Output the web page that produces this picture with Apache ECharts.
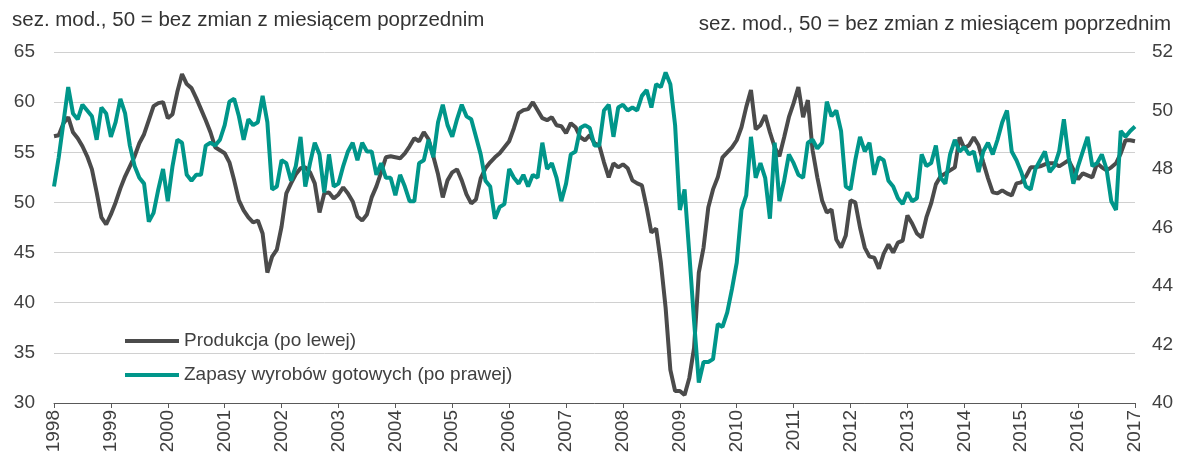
<!DOCTYPE html>
<html>
<head>
<meta charset="utf-8">
<script src="https://cdn.jsdelivr.net/npm/echarts@6/dist/echarts.min.js"></script>
<style>
html, body { margin: 0; padding: 0; background: #fff; }
#chart { width: 1177px; height: 460px; }
</style>
</head>
<body>
<div id="chart"></div>
<script>
// monthly data, Jan 1998 .. Jan 2017
const firstYear = 1998
const lastYear = 2017
const axisNote = 'sez. mod., 50 = bez zmian z miesiącem poprzednim'

// Produkcja (left axis)
const produkcja = [
  56.6, 56.7, 57.9, 58.5, 57.0, 56.4, 55.6, 54.6, 53.3, 51.0, 48.5, 47.8, // 1998
  48.8, 50.0, 51.4, 52.6, 53.6, 54.6, 55.9, 56.8, 58.2, 59.6, 59.9, 60.0, // 1999
  58.4, 58.8, 61.0, 62.8, 61.8, 61.4, 60.4, 59.3, 58.2, 57.0, 55.5, 55.2, // 2000
  54.9, 54.0, 52.2, 50.2, 49.2, 48.5, 48.0, 48.2, 46.9, 43.0, 44.6, 45.3, // 2001
  47.6, 50.9, 51.9, 52.8, 53.4, 53.5, 53.0, 51.9, 49.0, 50.9, 51.0, 50.4, // 2002
  50.8, 51.5, 50.9, 50.1, 48.6, 48.2, 48.8, 50.5, 51.6, 53.0, 54.5, 54.6, // 2003
  54.5, 54.4, 54.9, 55.6, 56.4, 56.1, 57.0, 56.3, 54.6, 52.8, 50.5, 52.2, // 2004
  53.0, 53.3, 52.2, 50.8, 49.9, 50.3, 52.4, 53.4, 54.0, 54.5, 54.9, 55.5, // 2005
  56.1, 57.4, 58.9, 59.2, 59.3, 60.0, 59.2, 58.4, 58.2, 58.5, 57.7, 57.6, // 2006
  56.9, 57.9, 57.5, 56.5, 56.2, 56.7, 55.9, 55.7, 54.0, 52.5, 53.9, 53.5, // 2007
  53.8, 53.4, 52.2, 51.9, 51.7, 49.5, 47.0, 47.4, 44.0, 39.5, 33.3, 31.2, // 2008
  31.2, 30.8, 32.5, 35.5, 43.0, 45.5, 49.5, 51.3, 52.5, 54.5, 55.0, 55.5, // 2009
  56.2, 57.5, 59.5, 61.2, 57.3, 57.7, 58.7, 57.0, 55.5, 54.6, 56.5, 58.5, // 2010
  59.9, 61.5, 58.5, 60.2, 55.2, 52.5, 50.2, 49.0, 49.3, 46.3, 45.5, 46.7, // 2011
  50.2, 50.0, 47.5, 45.5, 44.6, 44.5, 43.4, 44.9, 45.8, 45.0, 46.0, 46.2, // 2012
  48.7, 47.9, 46.9, 46.5, 48.5, 49.9, 51.8, 52.6, 52.9, 53.2, 53.5, 56.5, // 2013
  55.4, 55.7, 56.5, 55.7, 54.0, 52.4, 51.0, 50.9, 51.2, 50.9, 50.7, 51.9, // 2014
  52.0, 52.6, 53.5, 53.5, 53.6, 53.8, 53.9, 53.9, 53.6, 53.9, 54.2, 53.3, // 2015
  52.3, 52.9, 52.7, 52.5, 53.9, 53.5, 53.2, 53.5, 53.9, 54.9, 56.2, 56.2, // 2016
  56.1                                                                    // 2017
]

// Zapasy wyrobów gotowych (right axis)
const zapasy = [
  47.4, 48.4, 49.6, 50.8, 49.9, 49.7, 50.2, 50.0, 49.8, 49.0, 50.1, 49.9, // 1998
  49.1, 49.6, 50.4, 49.9, 48.8, 48.1, 47.7, 47.5, 46.2, 46.5, 47.3, 48.0, // 1999
  46.9, 48.1, 49.0, 48.9, 47.8, 47.6, 47.8, 47.8, 48.8, 48.9, 48.8, 49.0, // 2000
  49.5, 50.3, 50.4, 49.8, 49.0, 49.7, 49.5, 49.6, 50.5, 49.6, 47.3, 47.4, // 2001
  48.3, 48.2, 47.6, 48.1, 49.1, 47.4, 48.2, 48.9, 48.5, 47.2, 48.5, 47.4, // 2002
  47.5, 48.1, 48.6, 48.9, 48.3, 48.9, 48.6, 48.6, 47.8, 48.2, 47.7, 47.7, // 2003
  47.1, 47.8, 47.4, 46.9, 46.9, 48.2, 48.3, 49.0, 48.4, 49.6, 50.2, 49.5, // 2004
  49.1, 49.7, 50.2, 49.8, 49.7, 49.1, 48.5, 47.6, 47.4, 46.3, 46.7, 46.8, // 2005
  48.0, 47.7, 47.5, 47.8, 47.4, 47.8, 47.7, 48.9, 48.0, 48.2, 47.7, 46.9, // 2006
  47.5, 48.5, 48.6, 49.4, 49.5, 49.4, 48.8, 48.8, 50.0, 50.2, 49.1, 50.1, // 2007
  50.2, 50.0, 50.1, 50.0, 50.5, 50.7, 50.1, 50.9, 50.8, 51.3, 50.9, 49.5, // 2008
  46.6, 47.3, 45.1, 42.8, 40.7, 41.4, 41.4, 41.5, 42.7, 42.6, 43.1, 43.9, // 2009
  44.8, 46.6, 47.1, 49.1, 47.7, 48.2, 47.7, 46.3, 48.9, 46.9, 47.6, 48.5, // 2010
  48.2, 47.8, 47.7, 48.9, 49.0, 48.7, 48.9, 50.3, 49.8, 50.0, 49.3, 47.4, // 2011
  47.3, 48.3, 49.1, 48.6, 48.9, 47.8, 48.4, 48.3, 47.6, 47.4, 47.0, 46.8, // 2012
  47.2, 46.9, 47.0, 48.5, 48.1, 48.2, 48.8, 47.7, 47.5, 48.5, 49.0, 48.6, // 2013
  48.75, 48.5, 48.6, 47.9, 48.6, 48.9, 48.5, 49.0, 49.6, 50.0, 48.6, 48.3, // 2014
  47.9, 47.4, 47.3, 48.0, 48.3, 48.6, 47.9, 48.1, 48.6, 49.7, 48.4, 47.5, // 2015
  48.1, 48.6, 49.1, 48.1, 48.2, 48.5, 48.0, 46.9, 46.6, 49.3, 49.1, 49.3, // 2016
  49.45                                                                   // 2017
]

const months = []
for (let y = firstYear; y < lastYear; y++) {
  for (let m = 1; m <= 12; m++) {
    months.push(y + '-' + (m < 10 ? '0' + m : m))
  }
}
months.push(lastYear + '-01')

const font = '"Liberation Sans", Arial, sans-serif'
const textColor = '#404040'
const grey = '#4b4b4b'
const teal = '#00968a'
const isJanuary = (index) => index % 12 === 0

const chart = echarts.init(document.getElementById('chart'))
chart.setOption({
  animation: false,
  backgroundColor: '#fff',
  title: [
    {
      text: axisNote,
      left: 7,
      top: 5,
      textStyle: { fontFamily: font, fontSize: 20.5, fontWeight: 'normal', color: '#333' }
    },
    {
      text: axisNote,
      right: 1,
      top: 9,
      textStyle: { fontFamily: font, fontSize: 20.5, fontWeight: 'normal', color: '#333' }
    }
  ],
  grid: {
    left: 54,
    right: 42,
    top: 52,
    bottom: 57,
    containLabel: false
  },
  legend: {
    orient: 'vertical',
    left: 120,
    top: 326,
    itemWidth: 54,
    itemHeight: 4,
    itemGap: 14,
    icon: 'rect',
    selectedMode: false,
    textStyle: { fontFamily: font, fontSize: 19, color: textColor, lineHeight: 20 }
  },
  xAxis: {
    type: 'category',
    data: months,
    boundaryGap: false,
    axisLine: { lineStyle: { color: '#595959', width: 1 } },
    axisTick: { show: true, interval: (i) => isJanuary(i), length: 5, lineStyle: { color: '#595959' } },
    axisLabel: {
      interval: (i) => isJanuary(i),
      rotate: 90,
      margin: 7,
      fontFamily: font,
      fontSize: 19,
      color: textColor,
      formatter: (v) => v.slice(0, 4)
    },
    splitLine: { show: false }
  },
  yAxis: [
    {
      type: 'value',
      min: 30,
      max: 65,
      interval: 5,
      axisLine: { show: false },
      axisTick: { show: false },
      axisLabel: { margin: 19, fontFamily: font, fontSize: 19, color: textColor },
      splitLine: { lineStyle: { color: '#d0d0d0', width: 1 } }
    },
    {
      type: 'value',
      min: 40,
      max: 52,
      interval: 2,
      position: 'right',
      axisLine: { show: false },
      axisTick: { show: false },
      axisLabel: { margin: 17, fontFamily: font, fontSize: 19, color: textColor },
      splitLine: { show: false }
    }
  ],
  series: [
    {
      name: 'Produkcja (po lewej)',
      type: 'line',
      yAxisIndex: 0,
      data: produkcja,
      showSymbol: false,
      itemStyle: { color: grey },
      lineStyle: { color: grey, width: 4 }
    },
    {
      name: 'Zapasy wyrobów gotowych (po prawej)',
      type: 'line',
      yAxisIndex: 1,
      data: zapasy,
      showSymbol: false,
      itemStyle: { color: teal },
      lineStyle: { color: teal, width: 4 }
    }
  ]
})
</script>
</body>
</html>
